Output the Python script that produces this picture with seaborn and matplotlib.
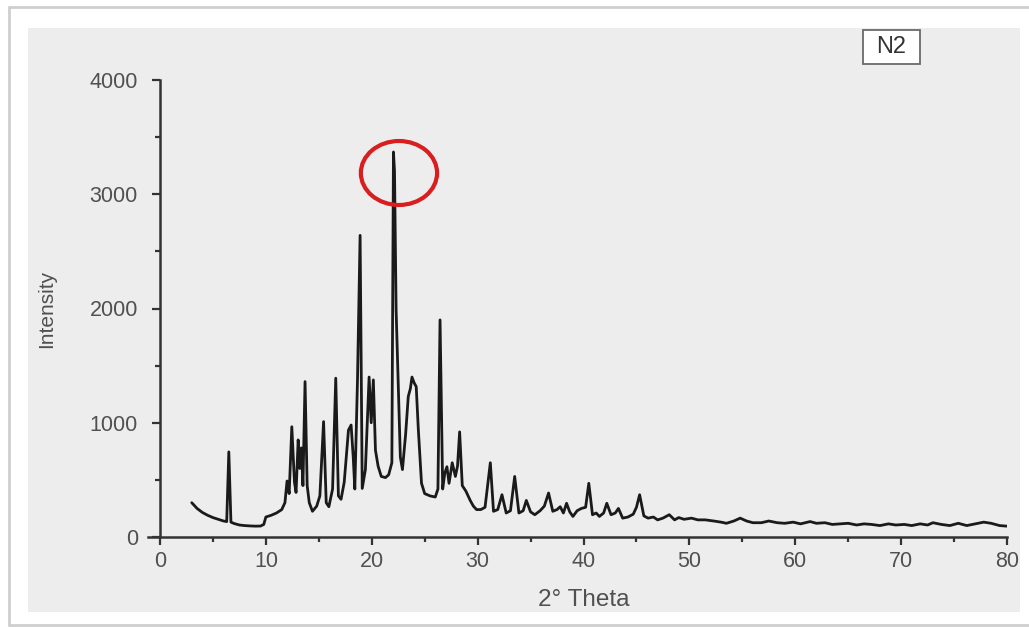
import matplotlib
matplotlib.use("Agg")
import matplotlib.pyplot as plt
from matplotlib.patches import Ellipse, Rectangle
from matplotlib.lines import Line2D
import seaborn as sns

# XRD pattern of sample N2
two_theta = [
    3.0, 3.5, 4.0, 4.5, 5.0, 5.5, 6.0, 6.3, 6.5, 6.7, 7.0, 7.5, 8.0, 8.5, 9.0, 9.5,
    9.8, 10.0, 10.5, 11.0, 11.5, 11.8, 12.0, 12.2, 12.45, 12.7, 12.85, 13.05, 13.2,
    13.35, 13.5, 13.7, 13.9, 14.1, 14.4, 14.8, 15.1, 15.45, 15.7, 15.95, 16.3, 16.6,
    16.85, 17.1, 17.4, 17.8, 18.05, 18.25, 18.4, 18.65, 18.9, 19.1, 19.4, 19.75,
    19.95, 20.15, 20.35, 20.6, 20.9, 21.3, 21.6, 21.9, 22.05, 22.15, 22.3, 22.45,
    22.7, 22.9, 23.2, 23.45, 23.65, 23.8, 24.0, 24.2, 24.4, 24.7, 25.0, 25.5, 26.0,
    26.25, 26.45, 26.7, 26.9, 27.1, 27.3, 27.6, 27.9, 28.1, 28.3, 28.55, 28.9, 29.3,
    29.6, 29.9, 30.3, 30.7, 31.2, 31.5, 31.9, 32.3, 32.7, 33.1, 33.5, 33.9, 34.3,
    34.6, 35.0, 35.4, 35.9, 36.3, 36.7, 37.1, 37.5, 37.8, 38.1, 38.4, 38.7, 39.0,
    39.4, 39.8, 40.2, 40.5, 40.85, 41.2, 41.5, 41.9, 42.2, 42.6, 43.0, 43.3, 43.7,
    44.2, 44.7, 45.0, 45.3, 45.7, 46.1, 46.6, 47.0, 47.5, 48.1, 48.6, 49.0, 49.5,
    50.2, 50.8, 51.5, 52.3, 53.0, 53.5, 54.2, 54.8, 55.4, 56.0, 56.8, 57.5, 58.3,
    59.0, 59.8, 60.5, 61.4, 62.0, 62.8, 63.5, 64.2, 65.0, 65.8, 66.5, 67.2, 68.0,
    68.8, 69.5, 70.3, 71.0, 71.8, 72.5, 73.0, 73.8, 74.6, 75.4, 76.2, 77.0, 77.8,
    78.5, 79.3, 80.0,
]
intensity = [
    300, 250, 215, 190, 170, 155, 140, 135, 745, 130, 118, 105, 100, 97, 95, 96,
    110, 175, 190, 210, 240, 300, 490, 380, 965, 480, 390, 850, 600,
    780, 450, 1360, 450, 300, 225, 270, 360, 1010, 300, 265, 420, 1390,
    360, 330, 480, 935, 980, 700, 420, 1360, 2640, 425, 590, 1400,
    1000, 1375, 760, 620, 530, 520, 545, 650, 3370, 3200, 1990, 1500,
    700, 590, 900, 1230, 1300, 1400, 1350, 1316, 940, 470, 380, 360, 350,
    420, 1900, 420, 560, 615, 470, 650, 530, 620, 920, 450, 400, 320,
    270, 240, 240, 260, 650, 225, 240, 370, 210, 230, 530, 210, 230,
    320, 220, 195, 230, 270, 385, 225, 240, 265, 210, 295, 220, 180,
    230, 250, 260, 470, 195, 210, 180, 210, 295, 195, 210, 250, 165,
    175, 200, 260, 370, 185, 165, 175, 150, 165, 195, 150, 170, 155,
    165, 150, 150, 140, 130, 120, 140, 165, 140, 125, 125, 140, 125,
    120, 130, 115, 135, 120, 125, 110, 115, 120, 105, 115, 110, 100,
    115, 105, 110, 100, 115, 105, 125, 110, 100, 120, 100, 115, 130,
    120, 100, 95,
]
x_ticks = [0, 10, 20, 30, 40, 50, 60, 70, 80]
y_ticks = [0, 1000, 2000, 3000, 4000]
sample_label = "N2"

W, H = 1029, 627


def fx(px):
    return px / W


def fy(py):
    return 1 - py / H


sns.set_style("ticks")
plt.rcParams['font.family'] = ['Liberation Sans', 'DejaVu Sans']

fig = plt.figure(figsize=(W / 100, H / 100), dpi=100)
fig.patch.set_facecolor('white')

# grey panel and thin outer frame of the original screenshot
fig.add_artist(Rectangle((fx(28), fy(612)), fx(1020) - fx(28), fy(28) - fy(612),
                         transform=fig.transFigure, facecolor='#ededed',
                         edgecolor='none', zorder=0))
frame_kw = dict(transform=fig.transFigure, color='#cfcfcf', linewidth=2, zorder=0)
fig.add_artist(Line2D([fx(9), fx(9)], [fy(7), fy(625)], **frame_kw))
fig.add_artist(Line2D([fx(9), fx(1029)], [fy(7), fy(7)], **frame_kw))
fig.add_artist(Line2D([fx(9), fx(1029)], [fy(625), fy(625)], **frame_kw))

ax = fig.add_axes([fx(160), fy(537), fx(1007) - fx(160), fy(80) - fy(537)])
ax.patch.set_alpha(0)

sns.lineplot(x=two_theta, y=intensity, ax=ax, color='#1a1a1a',
             linewidth=2.0, estimator=None)

ax.set_xlim(0, 80)
ax.set_ylim(0, 4000)
ax.set_xticks(x_ticks)
ax.set_yticks(y_ticks)
ax.set_xticks([t + 5 for t in x_ticks[:-1]], minor=True)
ax.set_yticks([t + 500 for t in y_ticks[:-1]], minor=True)

sns.despine(ax=ax)
for side in ['left', 'bottom']:
    ax.spines[side].set_linewidth(1.8)
    ax.spines[side].set_color('#333333')
ax.spines['bottom'].set_bounds(-1.1, 80)

ax.tick_params(which='major', length=6, width=1.6, color='#333333',
               labelsize=15.5, labelcolor='#505050')
ax.tick_params(axis='x', which='major', pad=4)
ax.tick_params(axis='y', which='major', pad=10)
ax.tick_params(which='minor', length=3.5, width=1.6, color='#333333')

ax.set_xlabel('2° Theta', fontsize=17.5, color='#505050', labelpad=12)
ax.set_ylabel('Intensity', fontsize=15, color='#505050', labelpad=24)

# red circle highlighting the main reflection
ax.add_patch(Ellipse((22.57, 3186), 7.2, 560, fill=False,
                     edgecolor='#d81e1e', linewidth=3, zorder=5))

# sample label box
fig.add_artist(Rectangle((fx(863), fy(64)), fx(920) - fx(863), fy(30) - fy(64),
                         transform=fig.transFigure, facecolor='white',
                         edgecolor='#6a6a6a', linewidth=1.3, zorder=3))
fig.text(fx(891.5), fy(47), sample_label, ha='center', va='center',
         fontsize=17, color='#333333', zorder=4)

fig.savefig('out.png', dpi=100)
